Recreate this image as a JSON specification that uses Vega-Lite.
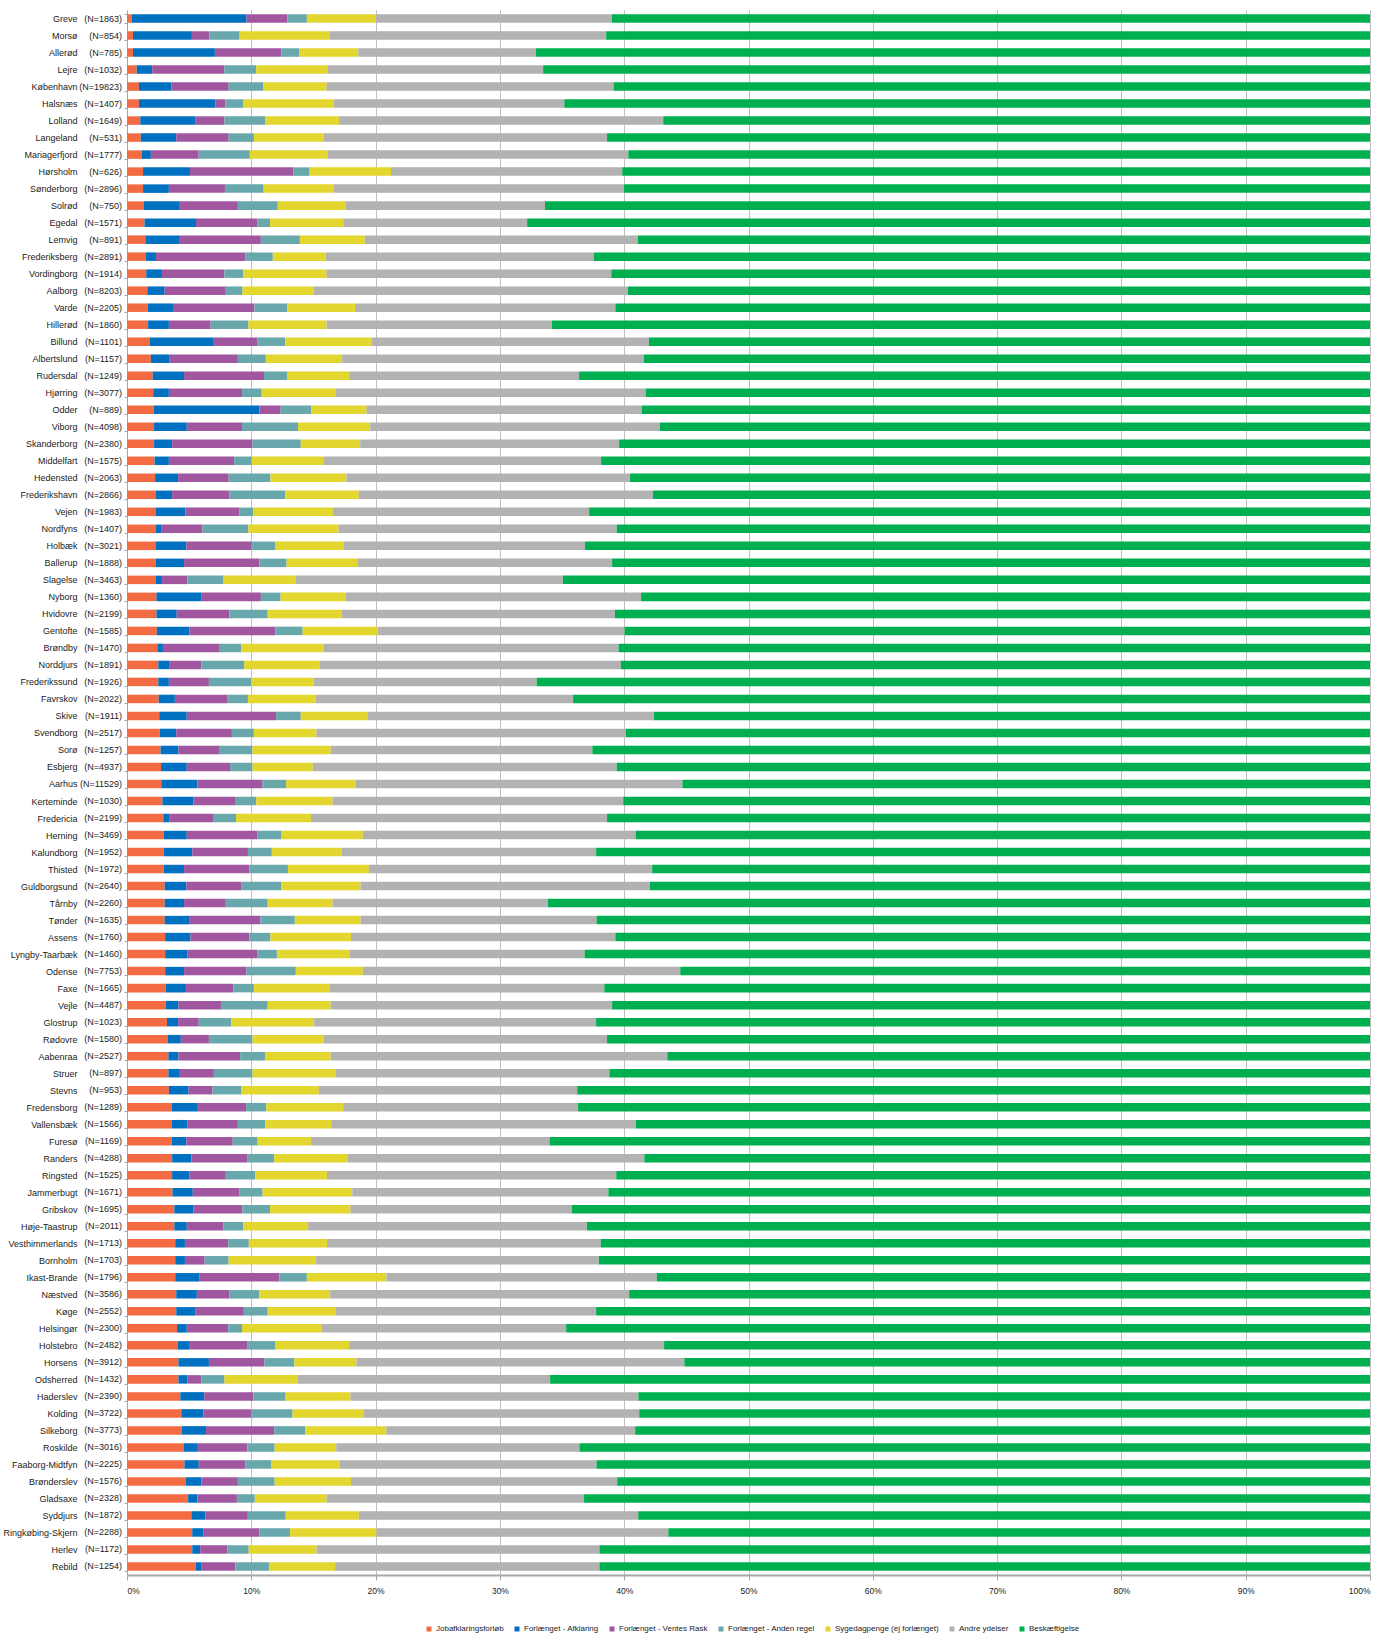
{
"$schema": "https://vega.github.io/schema/vega-lite/v6.json",
"width": 1243, "height": 1565,
"autosize": {"type": "none"},
"padding": {"left": 127, "top": 10, "right": 10, "bottom": 61},
"config": {"view": {"stroke": null}, "font": "Liberation Sans"},
"data": {"values": [
{"k":"Greve","n":"(N=1863)","a":0.37,"b":9.25,"c":3.29,"d":1.56,"e":5.51,"f":19.01,"g":61.01},
{"k":"Morsø","n":"(N=854)","a":0.48,"b":4.74,"c":1.40,"d":2.44,"e":7.22,"f":22.27,"g":61.45},
{"k":"Allerød","n":"(N=785)","a":0.48,"b":6.59,"c":5.36,"d":1.41,"e":4.77,"f":14.28,"g":67.11},
{"k":"Lejre","n":"(N=1032)","a":0.78,"b":1.25,"c":5.81,"d":2.56,"e":5.77,"f":17.31,"g":66.52},
{"k":"København","n":"(N=19823)","a":0.96,"b":2.63,"c":4.59,"d":2.77,"e":5.11,"f":23.08,"g":60.86},
{"k":"Halsnæs","n":"(N=1407)","a":0.96,"b":6.14,"c":0.82,"d":1.44,"e":7.25,"f":18.57,"g":64.82},
{"k":"Lolland","n":"(N=1649)","a":1.07,"b":4.41,"c":2.36,"d":3.30,"e":5.92,"f":26.08,"g":56.86},
{"k":"Langeland","n":"(N=531)","a":1.11,"b":2.85,"c":4.22,"d":2.03,"e":5.62,"f":22.79,"g":61.38},
{"k":"Mariagerfjord","n":"(N=1777)","a":1.18,"b":0.74,"c":3.85,"d":4.11,"e":6.25,"f":24.20,"g":59.67},
{"k":"Hørsholm","n":"(N=626)","a":1.29,"b":3.78,"c":8.32,"d":1.30,"e":6.55,"f":18.60,"g":60.16},
{"k":"Sønderborg","n":"(N=2896)","a":1.29,"b":2.08,"c":4.51,"d":3.11,"e":5.62,"f":23.38,"g":60.01},
{"k":"Solrød","n":"(N=750)","a":1.33,"b":2.92,"c":4.67,"d":3.21,"e":5.48,"f":16.02,"g":66.37},
{"k":"Egedal","n":"(N=1571)","a":1.41,"b":4.14,"c":4.96,"d":1.00,"e":5.88,"f":14.80,"g":67.81},
{"k":"Lemvig","n":"(N=891)","a":1.48,"b":2.77,"c":6.52,"d":3.14,"e":5.22,"f":21.97,"g":58.90},
{"k":"Frederiksberg","n":"(N=2891)","a":1.52,"b":0.81,"c":7.18,"d":2.22,"e":4.25,"f":21.57,"g":62.45},
{"k":"Vordingborg","n":"(N=1914)","a":1.55,"b":1.26,"c":5.03,"d":1.52,"e":6.70,"f":22.90,"g":61.04},
{"k":"Aalborg","n":"(N=8203)","a":1.63,"b":1.40,"c":4.92,"d":1.34,"e":5.73,"f":25.27,"g":59.71},
{"k":"Varde","n":"(N=2205)","a":1.66,"b":2.04,"c":6.55,"d":2.66,"e":5.44,"f":20.94,"g":60.71},
{"k":"Hillerød","n":"(N=1860)","a":1.70,"b":1.67,"c":3.36,"d":3.04,"e":6.29,"f":18.12,"g":65.82},
{"k":"Billund","n":"(N=1101)","a":1.85,"b":5.07,"c":3.55,"d":2.26,"e":6.95,"f":22.31,"g":58.01},
{"k":"Albertslund","n":"(N=1157)","a":1.92,"b":1.52,"c":5.48,"d":2.25,"e":6.14,"f":24.27,"g":58.42},
{"k":"Rudersdal","n":"(N=1249)","a":2.07,"b":2.52,"c":6.43,"d":1.85,"e":5.00,"f":18.50,"g":63.63},
{"k":"Hjørring","n":"(N=3077)","a":2.11,"b":1.26,"c":5.88,"d":1.59,"e":5.92,"f":24.97,"g":58.27},
{"k":"Odder","n":"(N=889)","a":2.15,"b":8.50,"c":1.71,"d":2.48,"e":4.43,"f":22.13,"g":58.60},
{"k":"Viborg","n":"(N=4098)","a":2.18,"b":2.63,"c":4.44,"d":4.51,"e":5.81,"f":23.31,"g":57.12},
{"k":"Skanderborg","n":"(N=2380)","a":2.18,"b":1.45,"c":6.47,"d":3.88,"e":4.78,"f":20.83,"g":60.41},
{"k":"Middelfart","n":"(N=1575)","a":2.22,"b":1.15,"c":5.25,"d":1.41,"e":5.77,"f":22.34,"g":61.86},
{"k":"Hedensted","n":"(N=2063)","a":2.26,"b":1.85,"c":4.07,"d":3.36,"e":6.11,"f":22.82,"g":59.53},
{"k":"Frederikshavn","n":"(N=2866)","a":2.29,"b":1.34,"c":4.62,"d":4.48,"e":5.92,"f":23.67,"g":57.68},
{"k":"Vejen","n":"(N=1983)","a":2.29,"b":2.41,"c":4.36,"d":1.11,"e":6.40,"f":20.61,"g":62.82},
{"k":"Nordfyns","n":"(N=1407)","a":2.29,"b":0.45,"c":3.33,"d":3.70,"e":7.25,"f":22.38,"g":60.60},
{"k":"Holbæk","n":"(N=3021)","a":2.29,"b":2.48,"c":5.26,"d":1.92,"e":5.48,"f":19.42,"g":63.15},
{"k":"Ballerup","n":"(N=1888)","a":2.29,"b":2.30,"c":6.06,"d":2.19,"e":5.69,"f":20.50,"g":60.97},
{"k":"Slagelse","n":"(N=3463)","a":2.33,"b":0.48,"c":2.04,"d":2.92,"e":5.81,"f":21.49,"g":64.93},
{"k":"Nyborg","n":"(N=1360)","a":2.37,"b":3.59,"c":4.81,"d":1.59,"e":5.21,"f":23.79,"g":58.64},
{"k":"Hvidovre","n":"(N=2199)","a":2.37,"b":1.63,"c":4.25,"d":3.07,"e":5.96,"f":21.97,"g":60.75},
{"k":"Gentofte","n":"(N=1585)","a":2.40,"b":2.63,"c":6.92,"d":2.18,"e":6.07,"f":19.83,"g":59.97},
{"k":"Brøndby","n":"(N=1470)","a":2.44,"b":0.45,"c":4.51,"d":1.78,"e":6.65,"f":23.72,"g":60.45},
{"k":"Norddjurs","n":"(N=1891)","a":2.52,"b":0.92,"c":2.55,"d":3.44,"e":6.07,"f":24.23,"g":60.27},
{"k":"Frederikssund","n":"(N=1926)","a":2.52,"b":0.85,"c":3.22,"d":3.40,"e":5.03,"f":17.94,"g":67.04},
{"k":"Favrskov","n":"(N=2022)","a":2.55,"b":1.30,"c":4.25,"d":1.63,"e":5.44,"f":20.72,"g":64.11},
{"k":"Skive","n":"(N=1911)","a":2.59,"b":2.22,"c":7.18,"d":1.99,"e":5.41,"f":23.01,"g":57.60},
{"k":"Svendborg","n":"(N=2517)","a":2.63,"b":1.33,"c":4.48,"d":1.77,"e":5.03,"f":24.90,"g":59.86},
{"k":"Sorø","n":"(N=1257)","a":2.70,"b":1.44,"c":3.26,"d":2.70,"e":6.29,"f":21.05,"g":62.56},
{"k":"Esbjerg","n":"(N=4937)","a":2.74,"b":2.07,"c":3.48,"d":1.81,"e":4.85,"f":24.45,"g":60.60},
{"k":"Aarhus","n":"(N=11529)","a":2.77,"b":2.89,"c":5.25,"d":1.89,"e":5.59,"f":26.30,"g":55.31},
{"k":"Kerteminde","n":"(N=1030)","a":2.85,"b":2.51,"c":3.33,"d":1.71,"e":6.14,"f":23.38,"g":60.08},
{"k":"Fredericia","n":"(N=2199)","a":2.92,"b":0.52,"c":3.48,"d":1.85,"e":6.03,"f":23.82,"g":61.38},
{"k":"Herning","n":"(N=3469)","a":2.96,"b":1.85,"c":5.66,"d":1.96,"e":6.55,"f":21.94,"g":59.08},
{"k":"Kalundborg","n":"(N=1952)","a":2.96,"b":2.29,"c":4.48,"d":1.92,"e":5.63,"f":20.46,"g":62.26},
{"k":"Thisted","n":"(N=1972)","a":2.96,"b":1.63,"c":5.25,"d":3.11,"e":6.51,"f":22.79,"g":57.75},
{"k":"Guldborgsund","n":"(N=2640)","a":3.03,"b":1.74,"c":4.41,"d":3.25,"e":6.36,"f":23.27,"g":57.94},
{"k":"Tårnby","n":"(N=2260)","a":3.03,"b":1.56,"c":3.36,"d":3.37,"e":5.22,"f":17.31,"g":66.15},
{"k":"Tønder","n":"(N=1635)","a":3.03,"b":1.96,"c":5.74,"d":2.77,"e":5.29,"f":18.98,"g":62.23},
{"k":"Assens","n":"(N=1760)","a":3.07,"b":2.04,"c":4.73,"d":1.70,"e":6.48,"f":21.27,"g":60.71},
{"k":"Lyngby-Taarbæk","n":"(N=1460)","a":3.07,"b":1.81,"c":5.59,"d":1.59,"e":5.88,"f":18.87,"g":63.19},
{"k":"Odense","n":"(N=7753)","a":3.07,"b":1.52,"c":5.03,"d":3.96,"e":5.40,"f":25.53,"g":55.49},
{"k":"Faxe","n":"(N=1665)","a":3.11,"b":1.63,"c":3.81,"d":1.66,"e":6.07,"f":22.12,"g":61.60},
{"k":"Vejle","n":"(N=4487)","a":3.14,"b":1.00,"c":3.48,"d":3.70,"e":5.07,"f":22.64,"g":60.97},
{"k":"Glostrup","n":"(N=1023)","a":3.22,"b":0.89,"c":1.66,"d":2.63,"e":6.66,"f":22.68,"g":62.26},
{"k":"Rødovre","n":"(N=1580)","a":3.29,"b":1.04,"c":2.26,"d":3.51,"e":5.73,"f":22.79,"g":61.38},
{"k":"Aabenraa","n":"(N=2527)","a":3.33,"b":0.81,"c":4.96,"d":2.00,"e":5.29,"f":27.08,"g":56.53},
{"k":"Struer","n":"(N=897)","a":3.33,"b":0.92,"c":2.74,"d":3.11,"e":6.66,"f":22.05,"g":61.19},
{"k":"Stevns","n":"(N=953)","a":3.37,"b":1.59,"c":1.92,"d":2.33,"e":6.22,"f":20.79,"g":63.78},
{"k":"Fredensborg","n":"(N=1289)","a":3.59,"b":2.11,"c":3.88,"d":1.63,"e":6.18,"f":18.90,"g":63.71},
{"k":"Vallensbæk","n":"(N=1566)","a":3.59,"b":1.29,"c":4.04,"d":2.22,"e":5.29,"f":24.52,"g":59.05},
{"k":"Furesø","n":"(N=1169)","a":3.59,"b":1.18,"c":3.74,"d":2.00,"e":4.29,"f":19.20,"g":66.00},
{"k":"Randers","n":"(N=4288)","a":3.63,"b":1.55,"c":4.48,"d":2.18,"e":5.92,"f":23.86,"g":58.38},
{"k":"Ringsted","n":"(N=1525)","a":3.63,"b":1.40,"c":2.92,"d":2.37,"e":5.77,"f":23.27,"g":60.64},
{"k":"Jammerbugt","n":"(N=1671)","a":3.66,"b":1.63,"c":3.77,"d":1.85,"e":7.22,"f":20.60,"g":61.27},
{"k":"Gribskov","n":"(N=1695)","a":3.81,"b":1.55,"c":3.93,"d":2.22,"e":6.47,"f":17.80,"g":64.22},
{"k":"Høje-Taastrup","n":"(N=2011)","a":3.81,"b":1.00,"c":2.96,"d":1.59,"e":5.22,"f":22.42,"g":63.00},
{"k":"Vesthimmerlands","n":"(N=1713)","a":3.88,"b":0.78,"c":3.48,"d":1.66,"e":6.29,"f":22.02,"g":61.89},
{"k":"Bornholm","n":"(N=1703)","a":3.88,"b":0.78,"c":1.59,"d":1.93,"e":7.03,"f":22.75,"g":62.04},
{"k":"Ikast-Brande","n":"(N=1796)","a":3.88,"b":1.97,"c":6.40,"d":2.22,"e":6.40,"f":21.75,"g":57.38},
{"k":"Næstved","n":"(N=3586)","a":3.96,"b":1.66,"c":2.63,"d":2.40,"e":5.70,"f":24.05,"g":59.60},
{"k":"Køge","n":"(N=2552)","a":3.96,"b":1.52,"c":3.92,"d":1.92,"e":5.44,"f":20.98,"g":62.26},
{"k":"Helsingør","n":"(N=2300)","a":4.03,"b":0.78,"c":3.33,"d":1.11,"e":6.44,"f":19.64,"g":64.67},
{"k":"Holstebro","n":"(N=2482)","a":4.07,"b":0.92,"c":4.67,"d":2.29,"e":5.92,"f":25.34,"g":56.79},
{"k":"Horsens","n":"(N=3912)","a":4.14,"b":2.45,"c":4.47,"d":2.41,"e":4.99,"f":26.38,"g":55.16},
{"k":"Odsherred","n":"(N=1432)","a":4.14,"b":0.74,"c":1.11,"d":1.85,"e":5.89,"f":20.31,"g":65.96},
{"k":"Haderslev","n":"(N=2390)","a":4.29,"b":1.93,"c":3.95,"d":2.59,"e":5.22,"f":23.16,"g":58.86},
{"k":"Kolding","n":"(N=3722)","a":4.37,"b":1.77,"c":3.85,"d":3.33,"e":5.70,"f":22.19,"g":58.79},
{"k":"Silkeborg","n":"(N=3773)","a":4.40,"b":1.96,"c":5.48,"d":2.51,"e":6.52,"f":20.01,"g":59.12},
{"k":"Roskilde","n":"(N=3016)","a":4.55,"b":1.15,"c":3.99,"d":2.19,"e":4.95,"f":19.57,"g":63.60},
{"k":"Faaborg-Midtfyn","n":"(N=2225)","a":4.62,"b":1.15,"c":3.77,"d":2.08,"e":5.47,"f":20.68,"g":62.23},
{"k":"Brønderslev","n":"(N=1576)","a":4.74,"b":1.25,"c":2.93,"d":2.96,"e":6.14,"f":21.42,"g":60.56},
{"k":"Gladsaxe","n":"(N=2328)","a":4.92,"b":0.74,"c":3.18,"d":1.44,"e":5.78,"f":20.71,"g":63.23},
{"k":"Syddjurs","n":"(N=1872)","a":5.18,"b":1.13,"c":3.41,"d":3.05,"e":5.88,"f":22.48,"g":58.87},
{"k":"Ringkøbing-Skjern","n":"(N=2288)","a":5.25,"b":0.92,"c":4.47,"d":2.48,"e":6.95,"f":23.48,"g":56.45},
{"k":"Herlev","n":"(N=1172)","a":5.25,"b":0.64,"c":2.20,"d":1.70,"e":5.46,"f":22.76,"g":61.99},
{"k":"Rebild","n":"(N=1254)","a":5.53,"b":0.43,"c":2.76,"d":2.70,"e":5.32,"f":21.27,"g":61.99}
]},
"transform": [{"fold": ["a","b","c","d","e","f","g"], "as": ["serie", "andel"]}],
"encoding": {
"y": {"field": "k", "type": "nominal", "sort": null, "title": null,
"scale": {"paddingInner": 0.5, "paddingOuter": 0.25},
"axis": {"labelFontSize": 9, "labelColor": "#222222", "labelPadding": 47, "labelLimit": 200,
"tickSize": 3, "tickBand": "extent", "tickColor": "#A6A6A6", "domainColor": "#A6A6A6"}}
},
"layer": [
{
"mark": {"type": "bar"},
"encoding": {
"x": {"field": "andel", "type": "quantitative", "stack": "normalize", "title": null,
"scale": {"domain": [0, 1], "nice": false},
"axis": {"values": [0,0.1,0.2,0.3,0.4,0.5,0.6,0.7,0.8,0.9,1], "format": ".0%", "grid": true,
"gridColor": "#BFBFBF", "domainColor": "#A6A6A6", "domainWidth": 2, "tickColor": "#A6A6A6", "tickSize": 5,
"labelFontSize": 8.5, "labelColor": "#222222", "labelPadding": 6}},
"color": {"field": "serie", "type": "nominal",
"scale": {"domain": ["a","b","c","d","e","f","g"], "range": ["#F26B43","#0070C0","#A157A0","#68A8AD","#E2D62F","#B2B2B2","#00B050"]},
"legend": {"orient": "none", "legendX": 298, "legendY": 1615, "direction": "horizontal", "title": null,
"symbolType": "square", "symbolSize": 25, "symbolStrokeWidth": 0, "columnPadding": 9, "labelOffset": 3,
"labelFontSize": 8, "labelColor": "#222222", "labelLimit": 300,
"labelExpr": "datum.label == 'a' ? 'Jobafklaringsforløb' : datum.label == 'b' ? 'Forlænget - Afklaring' : datum.label == 'c' ? 'Forlænget - Ventes Rask' : datum.label == 'd' ? 'Forlænget - Anden regel' : datum.label == 'e' ? 'Sygedagpenge (ej forlænget)' : datum.label == 'f' ? 'Andre ydelser' : 'Beskæftigelse'"}}
}
},
{
"transform": [{"filter": "datum.serie == 'a'"}],
"mark": {"type": "text", "align": "right", "baseline": "middle", "dx": -5, "fontSize": 9, "color": "#222222"},
"encoding": {
"x": {"datum": 0},
"text": {"field": "n"}
}
}
]
}
